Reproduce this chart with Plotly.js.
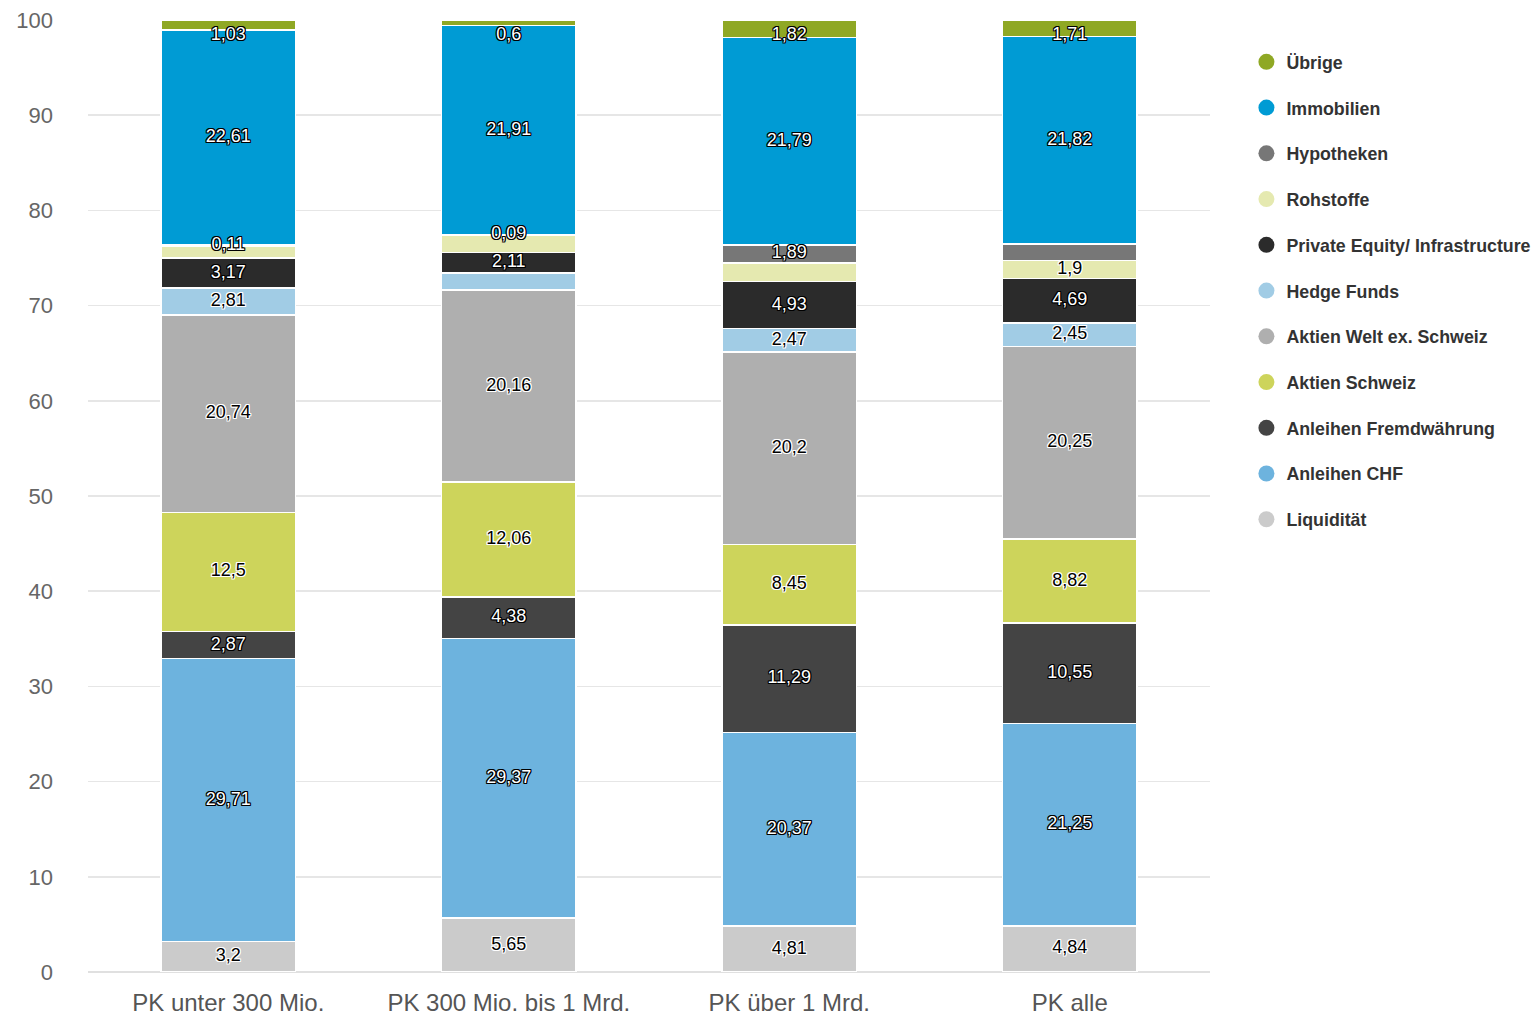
<!DOCTYPE html>
<html>
<head>
<meta charset="utf-8">
<script src="https://cdn.plot.ly/plotly-3.0.1.min.js"></script>
<style>
html,body{margin:0;padding:0;background:#fff;}
#chart{width:1535px;height:1015px;}
</style>
</head>
<body>
<div id="chart"></div>
<script>
// Categories (x axis)
const categories = ["PK unter 300 Mio.", "PK 300 Mio. bis 1 Mrd.", "PK über 1 Mrd.", "PK alle"];

// Series values (percent), stacked bottom to top
const liquiditaet      = [3.2, 5.65, 4.81, 4.84];
const anleihenCHF      = [29.71, 29.37, 20.37, 21.25];
const anleihenFW       = [2.87, 4.38, 11.29, 10.55];
const aktienSchweiz    = [12.5, 12.06, 8.45, 8.82];
const aktienWelt       = [20.74, 20.16, 20.2, 20.25];
const hedgeFunds       = [2.81, 1.83, 2.47, 2.45];
const privateEquity    = [3.17, 2.11, 4.93, 4.69];
const rohstoffe        = [1.25, 1.84, 1.98, 1.9];
const hypotheken       = [0.11, 0.09, 1.89, 1.72];
const immobilien       = [22.61, 21.91, 21.79, 21.82];
const uebrige          = [1.03, 0.6, 1.82, 1.71];

// Series names
const seriesNames = ["Liquidität", "Anleihen CHF", "Anleihen Fremdwährung", "Aktien Schweiz",
  "Aktien Welt ex. Schweiz", "Hedge Funds", "Private Equity/ Infrastructure", "Rohstoffe",
  "Hypotheken", "Immobilien", "Übrige"];
const seriesValues = [liquiditaet, anleihenCHF, anleihenFW, aktienSchweiz, aktienWelt,
  hedgeFunds, privateEquity, rohstoffe, hypotheken, immobilien, uebrige];

// Data labels not shown in the original (series name -> category indices)
const hiddenLabels = {
  "Hedge Funds": [1],
  "Rohstoffe": [0, 1, 2],
  "Hypotheken": [3]
};

// Styles
const seriesColors = ["#cbcbcb", "#6db3de", "#444444", "#cdd45b", "#afafaf", "#a1cce5",
  "#2b2b2b", "#e5e9b0", "#777777", "#009bd4", "#8fa824"];
const lightLabel = [true, false, false, true, true, true, false, true, false, false, false];
const labelTopLimit = 98.4; // labels are kept inside the plot area, like the original

const darkOutline = "1px 1px 0 #000, -1px -1px 0 #000, 1px -1px 0 #000, -1px 1px 0 #000, 0 1px 0 #000, 0 -1px 0 #000, 1px 0 0 #000, -1px 0 0 #000";
const whiteOutline = "1px 1px 0 #fff, -1px -1px 0 #fff, 1px -1px 0 #fff, -1px 1px 0 #fff, 0 1px 0 #fff, 0 -1px 0 #fff, 1px 0 0 #fff, -1px 0 0 #fff";

const fmt = v => String(v).replace('.', ',');

const FONT = "Liberation Sans, Arial, sans-serif";
const traces = [];
const labelTraces = [];
const base = categories.map(() => 0);

seriesNames.forEach((name, i) => {
  const vals = seriesValues[i];
  traces.push({
    type: "bar",
    name: name,
    x: categories,
    y: vals,
    marker: { color: seriesColors[i], line: { color: "#ffffff", width: 1.5 } },
    showlegend: false,
    hoverinfo: "x+y+name"
  });
  const hide = hiddenLabels[name] || [];
  const mids = vals.map((v, j) => Math.min(base[j] + v / 2, labelTopLimit));
  labelTraces.push({
    type: "scatter",
    mode: "text",
    x: categories,
    y: mids,
    text: vals.map((v, j) => hide.includes(j) ? "" : fmt(v)),
    textposition: "middle center",
    cliponaxis: false,
    textfont: {
      family: FONT,
      size: 18,
      color: lightLabel[i] ? "#000000" : "#ffffff",
      shadow: lightLabel[i] ? whiteOutline : darkOutline
    },
    showlegend: false,
    hoverinfo: "skip"
  });
  vals.forEach((v, j) => { base[j] += v; });
});

labelTraces.forEach(t => traces.push(t));

// Legend entries with circle markers (top to bottom: Übrige ... Liquidität)
for (let i = seriesNames.length - 1; i >= 0; i--) {
  traces.push({
    type: "scatter",
    mode: "markers",
    name: seriesNames[i],
    x: [null],
    y: [null],
    legendgroup: "g" + i,
    marker: { color: seriesColors[i], size: 16, symbol: "circle" },
    showlegend: true,
    hoverinfo: "skip"
  });
}

const layout = {
  width: 1535,
  height: 1015,
  barmode: "stack",
  bargap: 0.522,
  margin: { l: 88, r: 325, t: 20, b: 43, autoexpand: false },
  paper_bgcolor: "#ffffff",
  plot_bgcolor: "#ffffff",
  font: { family: FONT, color: "#666666" },
  xaxis: {
    type: "category",
    tickfont: { size: 24, color: "#555555" },
    showgrid: false,
    zeroline: false,
    showline: false,
    ticks: "",
    ticklabelstandoff: 14
  },
  yaxis: {
    range: [0, 100],
    tickvals: [0, 10, 20, 30, 40, 50, 60, 70, 80, 90, 100],
    tickfont: { size: 22, color: "#666666" },
    gridcolor: "#e6e6e6",
    gridwidth: 1.5,
    zeroline: true,
    zerolinecolor: "#e0e0e0",
    zerolinewidth: 1.5,
    showline: false,
    ticks: "",
    ticklabelstandoff: 34,
    fixedrange: true
  },
  legend: {
    xref: "container",
    x: 0.812,
    xanchor: "left",
    y: 0.975,
    yanchor: "top",
    traceorder: "grouped",
    tracegroupgap: 19.6,
    font: { family: FONT, size: 17.8, color: "#333333", weight: "bold" },
    bgcolor: "rgba(0,0,0,0)"
  },
  showlegend: true
};

Plotly.newPlot("chart", traces, layout, { displayModeBar: false, staticPlot: true });
</script>
</body>
</html>
